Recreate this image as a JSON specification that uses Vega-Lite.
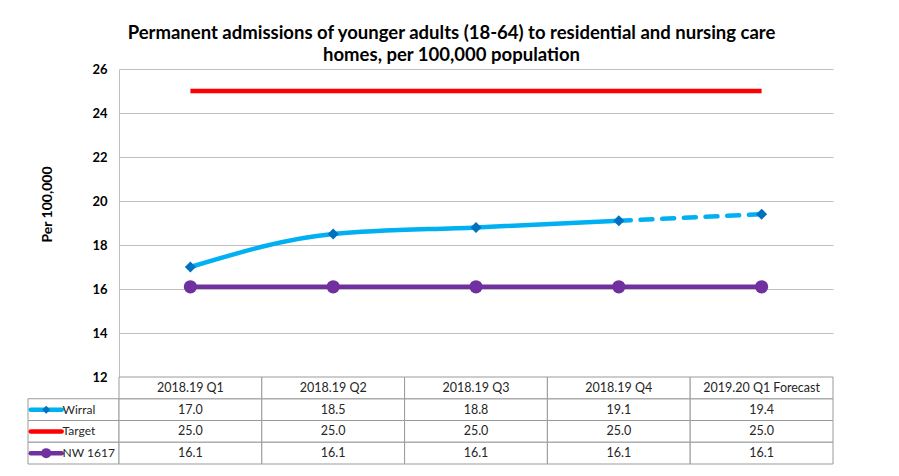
{
  "$schema": "https://vega.github.io/schema/vega-lite/v6.json",
  "background": "white",
  "padding": {"left": 27, "top": 23, "right": 0, "bottom": 0},
  "title": {
    "text": ["Permanent admissions of younger adults (18-64) to residential and nursing care", "homes, per 100,000 population"],
    "font": "Lato",
    "fontSize": 18.5,
    "fontWeight": "bold",
    "color": "#000000",
    "lineHeight": 22,
    "anchor": "middle",
    "dx": 21,
    "offset": -1
  },
  "datasets": {
    "vals": [
      {"quarter": "2018.19 Q1", "series": "Wirral", "value": 17.0},
      {"quarter": "2018.19 Q2", "series": "Wirral", "value": 18.5},
      {"quarter": "2018.19 Q3", "series": "Wirral", "value": 18.8},
      {"quarter": "2018.19 Q4", "series": "Wirral", "value": 19.1},
      {"quarter": "2019.20 Q1 Forecast", "series": "Wirral", "value": 19.4},
      {"quarter": "2018.19 Q1", "series": "Target", "value": 25.0},
      {"quarter": "2018.19 Q2", "series": "Target", "value": 25.0},
      {"quarter": "2018.19 Q3", "series": "Target", "value": 25.0},
      {"quarter": "2018.19 Q4", "series": "Target", "value": 25.0},
      {"quarter": "2019.20 Q1 Forecast", "series": "Target", "value": 25.0},
      {"quarter": "2018.19 Q1", "series": "NW 1617", "value": 16.1},
      {"quarter": "2018.19 Q2", "series": "NW 1617", "value": 16.1},
      {"quarter": "2018.19 Q3", "series": "NW 1617", "value": 16.1},
      {"quarter": "2018.19 Q4", "series": "NW 1617", "value": 16.1},
      {"quarter": "2019.20 Q1 Forecast", "series": "NW 1617", "value": 16.1}
    ]
  },
  "columns": 2,
  "spacing": 0,
  "bounds": "flush",
  "concat": [
    {
      "width": 91,
      "height": 308,
      "data": {"values": []},
      "mark": "point",
      "encoding": {}
    },
    {
      "width": 714,
      "height": 308,
      "data": {"name": "vals"},
      "encoding": {
        "x": {
          "field": "quarter", "type": "ordinal", "sort": null,
          "scale": {"type": "point", "padding": 0.5, "domain": ["2018.19 Q1", "2018.19 Q2", "2018.19 Q3", "2018.19 Q4", "2019.20 Q1 Forecast"]},
          "axis": null
        },
        "y": {
          "field": "value", "type": "quantitative",
          "scale": {"domain": [12, 26], "nice": false, "zero": false},
          "axis": {
            "values": [12, 14, 16, 18, 20, 22, 24, 26],
            "grid": true, "gridColor": "#c0c0c0", "gridWidth": 1,
            "domain": true, "domainColor": "#c0c0c0",
            "ticks": false,
            "labelFont": "Lato", "labelFontWeight": "bold", "labelFontSize": 13, "labelColor": "#000000", "labelPadding": 12,
            "title": "Per 100,000",
            "titleFont": "Lato", "titleFontSize": 14, "titleFontWeight": "bold", "titleColor": "#000000",
            "titlePadding": 37, "titleY": 135
          }
        },
        "color": {
          "field": "series", "type": "nominal",
          "scale": {"domain": ["Wirral", "Target", "NW 1617"], "range": ["#00B0F0", "#FF0000", "#7030A0"]},
          "legend": null
        }
      },
      "layer": [
        {"transform": [{"filter": "datum.series === 'Target'"}], "mark": {"type": "line", "strokeWidth": 4.5}},
        {"transform": [{"filter": "datum.series === 'NW 1617'"}], "mark": {"type": "line", "strokeWidth": 4.5}},
        {"transform": [{"filter": "datum.series === 'NW 1617'"}], "mark": {"type": "point", "shape": "circle", "filled": true, "size": 175, "opacity": 1}},
        {"transform": [{"filter": "datum.series === 'Wirral' && datum.quarter !== '2019.20 Q1 Forecast'"}], "mark": {"type": "line", "strokeWidth": 4.5, "interpolate": "monotone"}},
        {"transform": [{"filter": "datum.series === 'Wirral' && (datum.quarter === '2018.19 Q4' || datum.quarter === '2019.20 Q1 Forecast')"}], "mark": {"type": "line", "strokeWidth": 4.5, "strokeDash": [12, 9.7], "strokeCap": "round"}},
        {"transform": [{"filter": "datum.series === 'Wirral'"}], "mark": {"type": "point", "shape": "diamond", "filled": true, "size": 121, "opacity": 1}, "encoding": {"color": {"value": "#0070C0"}}}
      ]
    },
    {
      "width": 91,
      "height": 87,
      "data": {"name": "vals"},
      "transform": [{"filter": "datum.quarter === '2018.19 Q1'"}],
      "encoding": {
        "y": {
          "field": "series", "type": "nominal",
          "scale": {"type": "band", "domain": ["header", "Wirral", "Target", "NW 1617"], "paddingInner": 0, "paddingOuter": 0},
          "axis": null
        }
      },
      "layer": [
        {
          "mark": {"type": "rect", "fill": "white", "stroke": "#9a9a9a", "strokeWidth": 1},
          "encoding": {"x": {"datum": 0, "type": "quantitative", "scale": {"domain": [0, 1], "nice": false, "zero": false}, "axis": null}, "x2": {"datum": 1}}
        },
        {
          "mark": {"type": "rule", "strokeWidth": 4.5, "strokeCap": "round"},
          "encoding": {
            "x": {"datum": 0.03, "type": "quantitative"}, "x2": {"datum": 0.37},
            "color": {"field": "series", "type": "nominal", "scale": {"domain": ["Wirral", "Target", "NW 1617"], "range": ["#00B0F0", "#FF0000", "#7030A0"]}, "legend": null}
          }
        },
        {
          "transform": [{"filter": "datum.series === 'NW 1617'"}],
          "mark": {"type": "point", "shape": "circle", "filled": true, "size": 100, "opacity": 1, "color": "#7030A0"},
          "encoding": {"x": {"datum": 0.2, "type": "quantitative"}}
        },
        {
          "transform": [{"filter": "datum.series === 'Wirral'"}],
          "mark": {"type": "point", "shape": "diamond", "filled": true, "size": 64, "opacity": 1, "color": "#0070C0"},
          "encoding": {"x": {"datum": 0.2, "type": "quantitative"}}
        },
        {
          "mark": {"type": "text", "align": "left", "baseline": "middle", "font": "Lato", "fontSize": 12, "color": "#262626"},
          "encoding": {"x": {"datum": 0.38, "type": "quantitative"}, "text": {"field": "series"}}
        }
      ]
    },
    {
      "width": 714,
      "height": 87,
      "data": {"name": "vals"},
      "encoding": {
        "x": {
          "field": "quarter", "type": "ordinal", "sort": null,
          "scale": {"type": "band", "domain": ["2018.19 Q1", "2018.19 Q2", "2018.19 Q3", "2018.19 Q4", "2019.20 Q1 Forecast"], "paddingInner": 0, "paddingOuter": 0},
          "axis": null
        }
      },
      "layer": [
        {
          "mark": {"type": "rect", "fill": "white", "stroke": "#9a9a9a", "strokeWidth": 1},
          "encoding": {
            "y": {"field": "series", "type": "nominal", "scale": {"type": "band", "domain": ["header", "Wirral", "Target", "NW 1617"], "paddingInner": 0, "paddingOuter": 0}, "axis": null}
          }
        },
        {
          "transform": [{"filter": "datum.series === 'Wirral'"}],
          "mark": {"type": "rect", "fill": "white", "stroke": "#9a9a9a", "strokeWidth": 1},
          "encoding": {"y": {"datum": "header", "type": "nominal"}}
        },
        {
          "mark": {"type": "text", "align": "center", "baseline": "middle", "font": "Lato", "fontSize": 12.5, "color": "#262626"},
          "encoding": {
            "y": {"field": "series", "type": "nominal"},
            "text": {"field": "value", "type": "quantitative", "format": ".1f"}
          }
        },
        {
          "transform": [{"filter": "datum.series === 'Wirral'"}],
          "mark": {"type": "text", "align": "center", "baseline": "middle", "font": "Lato", "fontSize": 12.5, "color": "#262626"},
          "encoding": {"y": {"datum": "header", "type": "nominal"}, "text": {"field": "quarter", "type": "nominal"}}
        }
      ]
    }
  ],
  "config": {
    "view": {"stroke": null},
    "font": "Lato"
  }
}
